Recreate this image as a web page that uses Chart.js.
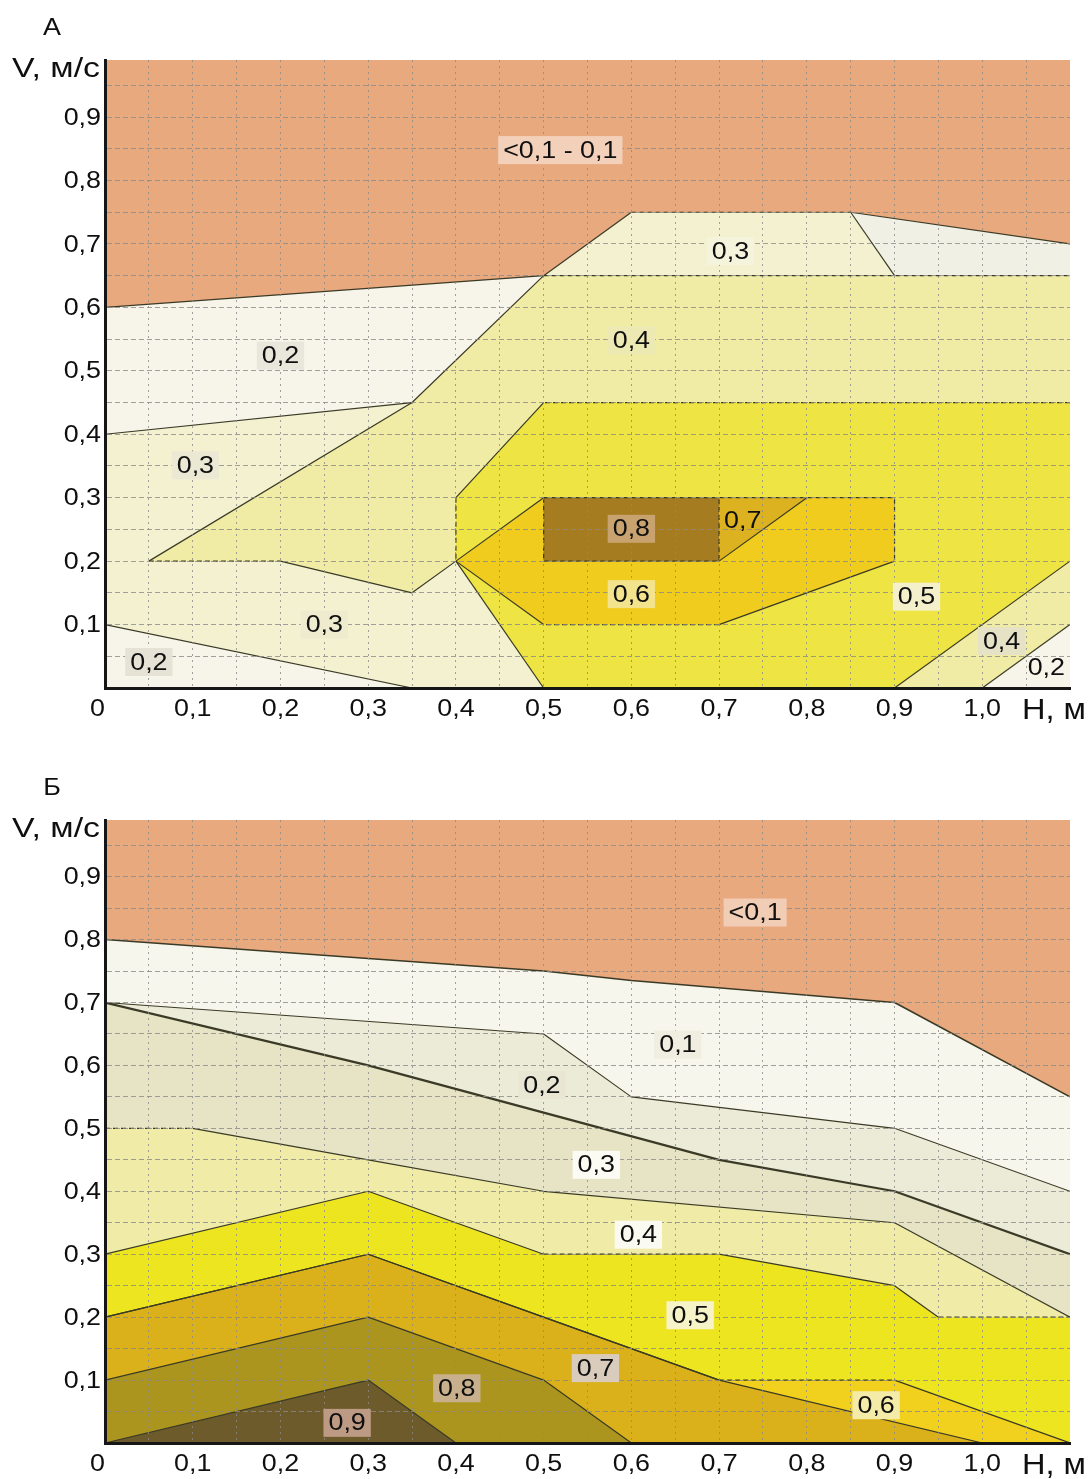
<!DOCTYPE html>
<html>
<head>
<meta charset="utf-8">
<script src="https://cdn.jsdelivr.net/npm/chart.js@4.4.1/dist/chart.umd.min.js"></script>
<style>
  html, body { margin: 0; padding: 0; background: #ffffff; }
  #wrap { position: relative; width: 1089px; height: 1479px; overflow: hidden; }
  canvas { position: absolute; left: 0; }
  #chartA { top: 0; }
  #chartB { top: 740px; }
</style>
</head>
<body>
<div id="wrap">
  <canvas id="chartA" width="1089" height="740"></canvas>
  <canvas id="chartB" width="1089" height="739"></canvas>
</div>
<script>
// ---- axis extents and tick labels ----
const H_MAX = 1.1;   // depth H, m
const V_MAX = 0.99;  // velocity V, m/s
const xTickValues = [0, 0.1, 0.2, 0.3, 0.4, 0.5, 0.6, 0.7, 0.8, 0.9, 1.0];
const xTickLabels = ['0', '0,1', '0,2', '0,3', '0,4', '0,5', '0,6', '0,7', '0,8', '0,9', '1,0'];
const yTickValues = [0.1, 0.2, 0.3, 0.4, 0.5, 0.6, 0.7, 0.8, 0.9];
const yTickLabels = ['0,1', '0,2', '0,3', '0,4', '0,5', '0,6', '0,7', '0,8', '0,9'];

// ---- panel A: zones (H, V vertices) ----
const A_Field     = [[0, 0], [0, V_MAX], [H_MAX, V_MAX], [H_MAX, 0]];
const A_Orange    = [[0, 0.6], [0.5, 0.65], [0.6, 0.75], [0.85, 0.75], [H_MAX, 0.7], [H_MAX, V_MAX], [0, V_MAX]];
const A_Upper02   = [[0, 0.4], [0.35, 0.45], [0.5, 0.65], [0, 0.6]];
const A_Corner02  = [[0.85, 0.75], [0.9, 0.65], [H_MAX, 0.65], [H_MAX, 0.7]];
const A_Zone04    = [[0.05, 0.2], [0.35, 0.45], [0.5, 0.65], [H_MAX, 0.65], [H_MAX, 0.45], [0.5, 0.45],
                     [0.4, 0.3], [0.4, 0.2], [0.35, 0.15], [0.2, 0.2]];
const A_Zone05    = [[0.5, 0.45], [H_MAX, 0.45], [H_MAX, 0.2], [0.9, 0], [0.5, 0], [0.4, 0.2], [0.4, 0.3]];
const A_Zone06    = [[0.4, 0.2], [0.5, 0.3], [0.9, 0.3], [0.9, 0.2], [0.7, 0.1], [0.5, 0.1]];
const A_Zone08    = [[0.5, 0.2], [0.5, 0.3], [0.7, 0.3], [0.7, 0.2]];
const A_Zone07    = [[0.7, 0.2], [0.7, 0.3], [0.8, 0.3]];
const A_Right04   = [[0.9, 0], [H_MAX, 0.2], [H_MAX, 0]];
const A_Right02   = [[1.0, 0], [H_MAX, 0.1], [H_MAX, 0]];
const A_Low02     = [[0, 0.1], [0.35, 0], [0, 0]];

// ---- panel A: zone boundaries ----
const A_Edges = [
  [[0, 0.6], [0.5, 0.65], [0.6, 0.75], [0.85, 0.75], [H_MAX, 0.7]],
  [[0.85, 0.75], [0.9, 0.65]],
  [[0.5, 0.65], [H_MAX, 0.65]],
  [[0, 0.4], [0.35, 0.45]],
  [[0.05, 0.2], [0.35, 0.45], [0.5, 0.65]],
  [[0.05, 0.2], [0.2, 0.2], [0.35, 0.15], [0.4, 0.2]],
  [[H_MAX, 0.45], [0.5, 0.45], [0.4, 0.3], [0.4, 0.2], [0.5, 0]],
  [[0.4, 0.2], [0.5, 0.3], [0.9, 0.3], [0.9, 0.2], [0.7, 0.1], [0.5, 0.1], [0.4, 0.2]],
  [[0.5, 0.3], [0.5, 0.2], [0.7, 0.2], [0.7, 0.3]],
  [[0.7, 0.2], [0.8, 0.3]],
  [[0, 0.1], [0.35, 0]],
  [[0.9, 0], [H_MAX, 0.2]],
  [[1.0, 0], [H_MAX, 0.1]]
];

// ---- panel A: zone captions ----
const A_LabelText = ['<0,1 - 0,1', '0,3', '0,4', '0,2', '0,3', '0,8', '0,7', '0,6', '0,5', '0,3', '0,2', '0,4', '0,2'];
const A_LabelH    = [0.519, 0.713, 0.6, 0.2, 0.103, 0.6, 0.727, 0.6, 0.925, 0.25, 0.05, 1.022, 1.073];
const A_LabelV    = [0.848, 0.689, 0.548, 0.524, 0.351, 0.251, 0.265, 0.148, 0.144, 0.1, 0.041, 0.074, 0.032];

// ---- panel B: isoline polylines (H, V vertices) ----
const B_Orange = [[0, 0.8], [0.3, 0.77], [0.5, 0.75], [0.6, 0.735], [0.9, 0.7], [H_MAX, 0.55]];
const B_Line02 = [[0, 0.7], [0.5, 0.65], [0.6, 0.55], [0.9, 0.5], [H_MAX, 0.4]];
const B_Line03 = [[0, 0.7], [0.3, 0.6], [0.7, 0.45], [0.9, 0.4], [H_MAX, 0.3]];
const B_Line04 = [[0, 0.5], [0.1, 0.5], [0.3, 0.45], [0.5, 0.4], [0.9, 0.35], [H_MAX, 0.2]];
const B_Line05 = [[0, 0.3], [0.3, 0.4], [0.5, 0.3], [0.7, 0.3], [0.9, 0.25], [0.95, 0.2], [H_MAX, 0.2]];
const B_Line06 = [[0, 0.2], [0.3, 0.3], [0.5, 0.2], [0.7, 0.1], [0.9, 0.1], [H_MAX, 0]];
const B_Line07 = [[0, 0.2], [0.3, 0.3], [0.5, 0.2], [0.7, 0.1], [1.0, 0]];
const B_Line08 = [[0, 0.1], [0.3, 0.2], [0.5, 0.1], [0.6, 0]];
const B_Line09 = [[0, 0], [0.3, 0.1], [0.4, 0]];

// ---- panel B: zone captions ----
const B_LabelText = ['<0,1', '0,1', '0,2', '0,3', '0,4', '0,5', '0,7', '0,8', '0,6', '0,9'];
const B_LabelH    = [0.741, 0.653, 0.498, 0.56, 0.608, 0.667, 0.559, 0.401, 0.879, 0.276];
const B_LabelV    = [0.843, 0.633, 0.569, 0.442, 0.331, 0.203, 0.119, 0.087, 0.06, 0.032];

// ---- styling ----
const FONT = '"Liberation Sans", Arial, Helvetica, sans-serif';
const STRETCH = 1.12;
const TEXT_COLOR = '#0f0f0f';
const EDGE_COLOR = '#3a3a26';
const GRID_COLOR = 'rgba(138,138,138,0.8)';
const GRID_STEP = 0.05;

const A_Colors = {
  orange: '#e9a97e', c02: '#f7f5ea', c03: '#f4f1d1', corner: '#f1f0e4', c04: '#f1eca5',
  c05: '#eee444', c06: '#f0cc1e', c07: '#dcb220', c08: '#a57c1f'
};
const B_Colors = {
  orange: '#e9a97e', c01: '#f7f6ec', c02: '#ecebd7', c03: '#e6e4c5', c04: '#f0eca8',
  c05: '#ede520', c06: '#f2d01e', c07: '#dab01b', c08: '#ab951f', c09: '#6d5b2b'
};
const A_LabelBoxes = ['#f2d0b9', '#f4f3dc', '#ede9b3', '#e9e7dc', '#ebe8d4', '#c9a36f', null,
                      '#f3e38c', '#f4f0cc', '#eeebcf', '#e6e3d6', '#e5e2c6', null];
const B_LabelBoxes = ['#f2cdb6', '#efeee0', '#e9e7d3', '#fbfbf4', '#fbfaf0', '#f7f3c8', '#d9ccbd',
                      '#c9b08c', '#f5eba8', '#bc9a83'];

// ---- helpers ----
const toXY = pts => pts.map(([x, y]) => ({ x, y }));

function zoneSet(pts, color) {
  return {
    data: toXY(pts), fill: 'shape', backgroundColor: color,
    borderColor: 'rgba(0,0,0,0)', borderWidth: 0, pointRadius: 0, pointHoverRadius: 0, tension: 0
  };
}

function edgeSet(pts, dashed, width) {
  return {
    data: toXY(pts), fill: false, borderColor: EDGE_COLOR, borderWidth: width,
    borderDash: dashed ? [5, 3] : [], borderCapStyle: 'butt', borderJoinStyle: 'round',
    pointRadius: 0, pointHoverRadius: 0, tension: 0
  };
}

// split a polyline: axis-parallel pieces are drawn dashed, sloped pieces solid
function edgeRuns(line) {
  const runs = [];
  for (let i = 0; i < line.length - 1; i++) {
    const a = line[i], b = line[i + 1];
    const dashed = a[0] === b[0] || a[1] === b[1];
    const last = runs[runs.length - 1];
    if (last && last.dashed === dashed && last.pts[last.pts.length - 1] === a) last.pts.push(b);
    else runs.push({ dashed, pts: [a, b] });
  }
  return runs;
}

function edgeSets(lines, width) {
  const out = [];
  lines.forEach(line => edgeRuns(line).forEach(r => out.push(edgeSet(r.pts, r.dashed, width))));
  return out;
}

// polygon of the zone lying under an isoline
function below(line) {
  const last = line[line.length - 1];
  const pts = line.slice();
  if (last[1] !== 0) pts.push([H_MAX, 0]);
  if (line[0][1] !== 0) pts.push([0, 0]);
  return pts;
}

function gridValues(max) {
  const out = [];
  for (let i = 0; i * GRID_STEP < max - 1e-9; i++) out.push(+(i * GRID_STEP).toFixed(2));
  return out;
}

function drawText(ctx, text, px, py, size, align, stretch) {
  ctx.save();
  ctx.font = size + 'px ' + FONT;
  ctx.fillStyle = TEXT_COLOR;
  ctx.textAlign = align;
  ctx.textBaseline = 'middle';
  ctx.translate(px, py);
  ctx.scale(stretch, 1);
  ctx.fillText(text, 0, 1);
  ctx.restore();
}

function drawFitText(ctx, text, px, py, size, align, width) {
  ctx.save();
  ctx.font = size + 'px ' + FONT;
  const w = ctx.measureText(text).width;
  ctx.restore();
  drawText(ctx, text, px, py, size, align, width / w);
}

const textPlugin = {
  id: 'panelTexts',
  afterDraw(chart, args, opts) {
    const { ctx, chartArea, scales } = chart;
    const xs = scales.x, ys = scales.y;
    // tick labels
    xTickValues.forEach((v, i) => {
      const px = xs.getPixelForValue(v);
      drawText(ctx, xTickLabels[i], px, chartArea.bottom + 20, 24, v === 0 ? 'right' : 'center', STRETCH);
    });
    yTickValues.forEach((v, i) => {
      drawText(ctx, yTickLabels[i], chartArea.left - 4, ys.getPixelForValue(v), 24, 'right', STRETCH);
    });
    // axis names and panel letter
    drawFitText(ctx, 'V, м/с', chartArea.left - 5, chartArea.top + 9, 27, 'right', 88);
    drawFitText(ctx, 'H, м', chartArea.right - 48, chartArea.bottom + 22, 29, 'left', 64);
    drawText(ctx, opts.letter, 52, opts.letterY, 24, 'center', STRETCH);
    // zone captions
    ctx.save();
    ctx.font = '24px ' + FONT;
    opts.text.forEach((t, i) => {
      const px = xs.getPixelForValue(opts.h[i]);
      const py = ys.getPixelForValue(opts.v[i]);
      const w = ctx.measureText(t).width * STRETCH + 10;
      const h = 28;
      if (opts.boxes[i]) {
        ctx.fillStyle = opts.boxes[i];
        ctx.fillRect(px - w / 2, py - h / 2, w, h);
      }
    });
    ctx.restore();
    opts.text.forEach((t, i) => {
      drawText(ctx, t, xs.getPixelForValue(opts.h[i]), ys.getPixelForValue(opts.v[i]), 24, 'center', STRETCH);
    });
  }
};

function makeChart(id, datasets, pad, xHeight, labelOpts) {
  const n = datasets.length;
  datasets.forEach((d, i) => { d.order = n - i; });
  const gx = gridValues(H_MAX), gy = gridValues(V_MAX);
  return new Chart(document.getElementById(id), {
    type: 'line',
    data: { datasets },
    options: {
      responsive: false,
      animation: false,
      devicePixelRatio: 1,
      events: [],
      layout: { padding: pad },
      plugins: { legend: { display: false }, tooltip: { enabled: false }, panelTexts: labelOpts },
      scales: {
        x: {
          type: 'linear', min: 0, max: H_MAX,
          afterBuildTicks: s => { s.ticks = gx.map(value => ({ value })); },
          afterFit: s => { s.height = xHeight; },
          ticks: { display: false },
          grid: { z: 1, color: GRID_COLOR, lineWidth: 1, drawTicks: false },
          border: { z: 2, display: true, color: '#161616', width: 3, dash: [2, 4] }
        },
        y: {
          type: 'linear', min: 0, max: V_MAX,
          afterBuildTicks: s => { s.ticks = gy.map(value => ({ value })); },
          afterFit: s => { s.width = 105; },
          ticks: { display: false },
          grid: { z: 1, color: GRID_COLOR, lineWidth: 1, drawTicks: false },
          border: { z: 2, display: true, color: '#161616', width: 3, dash: [5, 3] }
        }
      }
    },
    plugins: [textPlugin]
  });
}

// ---- panel A ----
const A_Sets = [
  zoneSet(A_Field, A_Colors.c03),
  zoneSet(A_Orange, A_Colors.orange),
  zoneSet(A_Upper02, A_Colors.c02),
  zoneSet(A_Corner02, A_Colors.corner),
  zoneSet(A_Zone04, A_Colors.c04),
  zoneSet(A_Zone05, A_Colors.c05),
  zoneSet(A_Zone06, A_Colors.c06),
  zoneSet(A_Zone08, A_Colors.c08),
  zoneSet(A_Zone07, A_Colors.c07),
  zoneSet(A_Right04, A_Colors.c04),
  zoneSet(A_Right02, A_Colors.c02),
  zoneSet(A_Low02, A_Colors.c02),
  ...edgeSets(A_Edges, 1.2)
];
makeChart('chartA', A_Sets, { top: 60, right: 19, bottom: 0, left: 0 }, 52, {
  letter: 'А', letterY: 27,
  text: A_LabelText, h: A_LabelH, v: A_LabelV, boxes: A_LabelBoxes
});

// ---- panel B ----
const B_Sets = [
  zoneSet([[0, 0], [0, V_MAX], [H_MAX, V_MAX], [H_MAX, 0]], B_Colors.c01),
  zoneSet(B_Orange.concat([[H_MAX, V_MAX], [0, V_MAX]]), B_Colors.orange),
  zoneSet(below(B_Line02), B_Colors.c02),
  zoneSet(below(B_Line03), B_Colors.c03),
  zoneSet(below(B_Line04), B_Colors.c04),
  zoneSet(below(B_Line05), B_Colors.c05),
  zoneSet(below(B_Line06), B_Colors.c06),
  zoneSet(below(B_Line07), B_Colors.c07),
  zoneSet(below(B_Line08), B_Colors.c08),
  zoneSet(below(B_Line09), B_Colors.c09),
  ...edgeSets([B_Orange], 1.6),
  ...edgeSets([B_Line02], 1.1),
  ...edgeSets([B_Line03], 2.2),
  ...edgeSets([B_Line04, B_Line05, B_Line06, B_Line07, B_Line08, B_Line09], 1.2)
];
makeChart('chartB', B_Sets, { top: 80, right: 19, bottom: 0, left: 0 }, 36, {
  letter: 'Б', letterY: 47,
  text: B_LabelText, h: B_LabelH, v: B_LabelV, boxes: B_LabelBoxes
});
</script>
</body>
</html>
